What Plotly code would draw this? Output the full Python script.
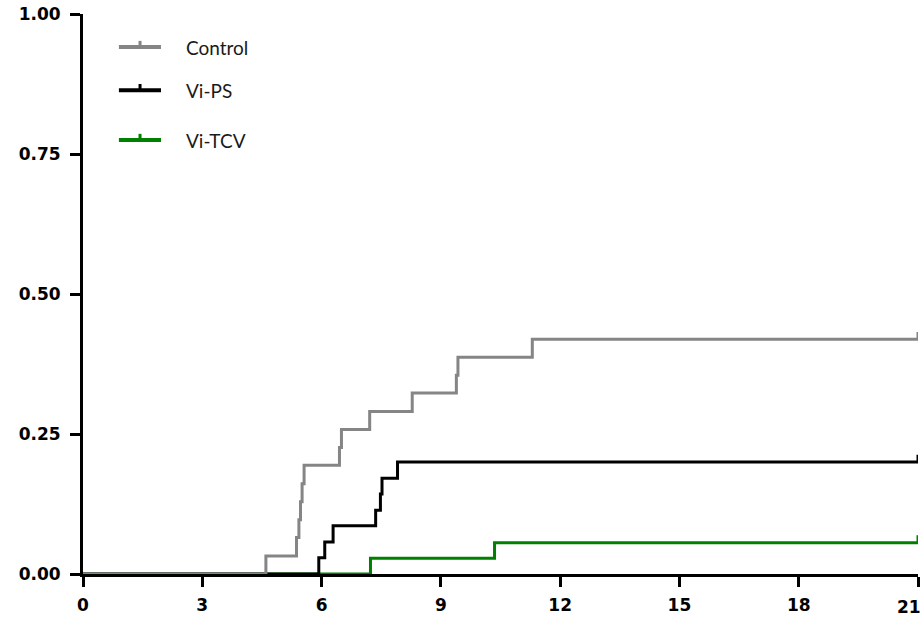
import plotly.graph_objects as go

# Kaplan-Meier style cumulative incidence
control_t = [0, 4.60, 5.37, 5.43, 5.47, 5.51, 5.56, 6.45, 6.50, 7.21, 8.28, 9.39, 9.43, 11.30, 21]
control_y = [0, 0.032, 0.065, 0.097, 0.129, 0.161, 0.194, 0.226, 0.258, 0.290, 0.323, 0.355, 0.387, 0.419, 0.419]

vips_t = [0, 5.93, 6.08, 6.29, 7.36, 7.48, 7.52, 7.91, 21]
vips_y = [0, 0.029, 0.057, 0.086, 0.114, 0.143, 0.171, 0.200, 0.200]

vitcv_t = [0, 7.23, 10.35, 21]
vitcv_y = [0, 0.028, 0.056, 0.056]

series_names = ["Control", "Vi-PS", "Vi-TCV"]
series_colors = ["#858585", "#000000", "#008000"]

x_ticks = [0, 3, 6, 9, 12, 15, 18, 21]
y_ticks = [0, 0.25, 0.5, 0.75, 1.0]
y_ticktext = ["0.00", "0.25", "0.50", "0.75", "1.00"]

censor_h = 0.013
tick_font = dict(family="DejaVu Sans", size=17, color="black", weight="bold")

data = [(control_t, control_y), (vips_t, vips_y), (vitcv_t, vitcv_y)]

fig = go.Figure()
# draw order: Vi-TCV bottom, then Vi-PS, then Control on top
for idx in [2, 1, 0]:
    t, y = data[idx]
    col = series_colors[idx]
    fig.add_trace(go.Scatter(
        x=t, y=y, mode="lines", line=dict(color=col, width=3, shape="hv"),
        name=series_names[idx], showlegend=False, hoverinfo="skip"))
    # censor tick at the end
    fig.add_trace(go.Scatter(
        x=[t[-1], t[-1]], y=[y[-1], y[-1] + censor_h], mode="lines",
        line=dict(color=col, width=3), showlegend=False, hoverinfo="skip"))

# manual legend
leg_y = [0.941, 0.864, 0.775]
tick_h = 0.011
for i, name in enumerate(series_names):
    col = series_colors[i]
    fig.add_shape(type="line", xref="paper", yref="paper",
                  x0=0.043, x1=0.0934, y0=leg_y[i], y1=leg_y[i],
                  line=dict(color=col, width=4))
    fig.add_shape(type="line", xref="paper", yref="paper",
                  x0=0.0683, x1=0.0683, y0=leg_y[i], y1=leg_y[i] + tick_h,
                  line=dict(color=col, width=3))
    fig.add_annotation(x=0.121, y=leg_y[i], xref="paper", yref="paper",
                       text=name, showarrow=False, xanchor="left", yanchor="middle",
                       font=dict(family="Lato", size=19, color="#1a1a1a"))

# last x tick label, kept just inside the right edge
fig.add_annotation(x=x_ticks[-1], y=0, xref="x", yref="paper", yshift=-33, xshift=5,
                   text=str(x_ticks[-1]), showarrow=False, xanchor="right", yanchor="middle",
                   font=tick_font)

fig.update_layout(
    width=924, height=620,
    margin=dict(l=83, r=6, t=14, b=46),
    paper_bgcolor="white", plot_bgcolor="white",
    showlegend=False,
)
fig.update_xaxes(
    range=[0, 21], tickvals=x_ticks,
    ticktext=[str(v) for v in x_ticks[:-1]] + [""],
    showgrid=False, zeroline=False, showline=True, linecolor="black", linewidth=3,
    ticks="outside", ticklen=10, tickwidth=3, tickcolor="black",
    ticklabelstandoff=4, automargin=False,
    tickfont=tick_font,
)
fig.update_yaxes(
    range=[0, 1], tickvals=y_ticks, ticktext=y_ticktext,
    showgrid=False, zeroline=False, showline=True, linecolor="black", linewidth=3,
    ticks="outside", ticklen=10, tickwidth=3, tickcolor="black",
    ticklabelstandoff=6, automargin=False,
    tickfont=tick_font,
)

fig.write_html("out.html")
